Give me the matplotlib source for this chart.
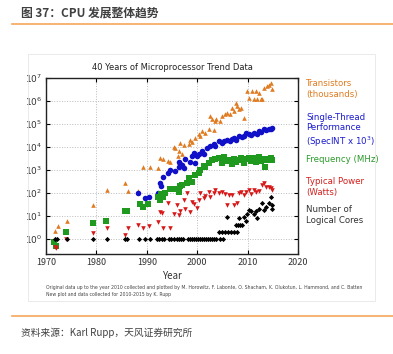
import matplotlib
matplotlib.use("Agg")
import matplotlib.pyplot as plt
from matplotlib.patches import Rectangle
from matplotlib.lines import Line2D

plt.rcParams['font.family'] = ['Noto Sans CJK SC', 'DejaVu Sans']

# ---------------- data ----------------
tr_years = [1971.7, 1972.3, 1974.2, 1979.4, 1982.1, 1985.7, 1986.2, 1988.3,
            1989.3, 1990.6, 1992.3, 1992.6, 1993.3, 1994.3, 1994.6, 1995.3, 1995.6,
            1996.2, 1996.3, 1996.6, 1997.0, 1997.3, 1998.3, 1998.6, 1998.9, 1999.6,
            2000.3, 2000.6, 2000.9, 2001.6, 2002.3, 2002.6, 2003.0, 2003.3, 2003.6,
            2003.8, 2004.6, 2004.9, 2005.6, 2005.9, 2006.6, 2006.9, 2007.3, 2007.6,
            2007.9, 2008.2, 2008.6, 2009.2, 2009.9, 2010.2, 2010.9, 2011.2, 2011.6,
            2011.9, 2012.2, 2012.6, 2012.9, 2013.3, 2013.9, 2014.3, 2014.6, 2014.9]
tr_values = [2.3, 3.5, 6, 29, 134, 275, 120, 125,
             1300, 1300, 1250, 3200, 3100, 2400, 2300, 10000, 9300,
             4000, 6500, 15000, 4800, 12000, 13000, 21000, 17000, 24000,
             35000, 30000, 50000, 42000, 59000, 220000, 160000, 56000, 135000,
             160000, 135000, 220000, 260000, 310000, 260000, 510000, 370000, 850000,
             600000, 440000, 510000, 190000, 2700000, 1400000, 2700000, 1200000, 2700000,
             1200000, 2300000, 1200000, 1200000, 3800000, 4500000, 5200000, 6300000, 3200000]

perf_years = [1988.3, 1989.6, 1990.4, 1992.3, 1992.6, 1992.9, 1993.3, 1994.3, 1994.6,
              1995.6, 1996.3, 1996.3, 1996.6, 1997.0, 1997.3, 1997.6, 1998.6, 1998.9,
              1999.3, 1999.6, 1999.9, 2000.3, 2000.9, 2001.3, 2001.9, 2002.6, 2003.3,
              2003.6, 2004.3, 2004.9, 2005.3, 2005.9, 2006.6, 2006.9, 2007.3, 2007.6,
              2008.3, 2008.9, 2009.2, 2009.6, 2010.2, 2010.6, 2011.2, 2011.9, 2012.2,
              2012.6, 2013.2, 2013.6, 2014.2, 2014.6, 2014.9]
perf_values = [98, 60, 65, 98, 260, 200, 510, 720, 1000,
               900, 1380, 2300, 1800, 1600, 1200, 2950, 2300, 4000,
               5600, 1950, 4000, 4800, 6800, 5000, 9300, 11000, 13000,
               11000, 18000, 15500, 19000, 21000, 18000, 22000, 25000, 20000,
               30000, 26000, 30000, 42000, 35000, 33000, 42000, 35000, 50000,
               47000, 59000, 55000, 59000, 62000, 69000]

freq_years = [1971.5, 1971.9, 1974.0, 1979.3, 1982.0, 1985.6, 1986.0, 1988.7,
              1989.3, 1990.3, 1992.3, 1992.6, 1992.9, 1993.3, 1993.6, 1994.6,
              1995.6, 1996.3, 1996.6, 1997.0, 1998.0, 1998.3, 1998.9, 1999.6,
              2000.3, 2000.6, 2001.3, 2001.6, 2002.3, 2003.0, 2003.6, 2004.3,
              2004.9, 2005.3, 2005.9, 2006.3, 2006.9, 2007.3, 2007.6, 2008.2,
              2008.6, 2009.2, 2009.6, 2010.2, 2010.6, 2011.2, 2011.6, 2012.2,
              2012.6, 2013.2, 2013.5, 2013.9, 2014.3, 2014.6, 2014.9]
freq_values = [0.74, 0.5, 2, 5, 6, 16, 16, 33,
               25, 33, 66, 50, 90, 66, 100, 150,
               150, 110, 200, 233, 266, 450, 300, 600,
               733, 1000, 1500, 1400, 2000, 2800, 3000, 3200,
               2000, 3600, 2400, 2700, 1800, 3000, 2200, 2600,
               3200, 2000, 2900, 3300, 2500, 3400, 2200, 3500,
               2500, 2900, 1400, 2700, 3000, 3300, 2600]

power_years = [1971.7, 1971.9, 1974.0, 1979.3, 1982.2, 1985.7, 1986.2, 1988.3,
               1989.3, 1990.4, 1992.3, 1992.6, 1993.0, 1993.3, 1994.3, 1994.6,
               1995.3, 1995.9, 1996.3, 1996.6, 1997.3, 1997.6, 1998.0, 1998.6,
               1998.9, 1999.3, 2000.0, 2000.3, 2000.6, 2001.3, 2001.6, 2002.3,
               2002.6, 2003.3, 2003.6, 2004.3, 2004.9, 2005.6, 2005.9, 2006.3,
               2006.9, 2007.3, 2007.9, 2008.3, 2008.6, 2009.2, 2009.6, 2010.2,
               2010.6, 2011.2, 2011.6, 2012.2, 2012.9, 2013.2, 2013.6, 2014.2,
               2014.6, 2014.9]
power_values = [0.45, 0.4, 1, 1.8, 3, 1.5, 3, 4,
                2.9, 3.5, 5.5, 15, 13, 3, 35, 3,
                12, 30, 11, 17, 50, 21, 98, 15,
                40, 33, 23, 50, 98, 60, 75, 115,
                65, 98, 135, 98, 115, 95, 30, 80,
                82, 30, 35, 98, 115, 80, 115, 135,
                95, 130, 115, 125, 225, 260, 190, 190,
                160, 140]

core_years = [1971.7, 1972.2, 1974.2, 1979.4, 1982.2, 1985.6, 1986.0, 1988.5,
              1989.6, 1990.6, 1992.1, 1992.5, 1993.0, 1993.4, 1994.4, 1994.9,
              1995.4, 1995.9, 1996.4, 1996.8, 1997.2, 1998.2, 1998.6, 1999.0,
              1999.4, 1999.8, 2000.2, 2000.6, 2001.0, 2001.4, 2001.8, 2002.2,
              2002.6, 2003.0, 2003.4, 2003.8, 2004.5, 2005.1, 2004.3, 2004.9,
              2005.5, 2006.1, 2006.7, 2007.3, 2007.9, 2007.6, 2008.1, 2008.5,
              2008.9, 2005.9, 2008.3, 2009.6, 2009.8, 2009.3, 2010.2, 2010.6,
              2011.2, 2011.6, 2011.9, 2012.2, 2012.9, 2013.2, 2013.6, 2014.2,
              2014.6, 2014.9, 2014.9]
core_values = [1, 1, 1, 1, 1, 1, 1, 1,
               1, 1, 1, 1, 1, 1, 1, 1,
               1, 1, 1, 1, 1, 1, 1, 1,
               1, 1, 1, 1, 1, 1, 1, 1,
               1, 1, 1, 1, 1, 1, 2, 2,
               2, 2, 2, 2, 2, 4, 4, 4,
               4, 9, 8, 6, 12, 9, 18, 16,
               12, 16, 8, 20, 35, 18, 24, 36,
               70, 30, 20]

labels = [("Transistors\n(thousands)", "#E07B20"),
          ("Single-Thread\nPerformance\n(SpecINT x 10$^3$)", "#1a1ad0"),
          ("Frequency (MHz)", "#2a9a2a"),
          ("Typical Power\n(Watts)", "#d42020"),
          ("Number of\nLogical Cores", "#333333")]

xticks = [1970, 1980, 1990, 2000, 2010, 2020]

# ---------------- figure ----------------
W, H = 393, 354
fig = plt.figure(figsize=(W / 100, H / 100), dpi=100)
fig.patch.set_facecolor("white")

def fx(px):
    return px / W

def fy(py):
    return 1 - py / H

# header / footer
fig.text(fx(21), fy(13), "图 37：CPU 发展整体趋势", fontsize=8.5, color="#404040",
         va="center", ha="left", fontweight="bold")
fig.add_artist(Line2D([fx(12), 1], [fy(24), fy(24)], color="#F5A55A", lw=1.2))
fig.add_artist(Line2D([fx(12), 1], [fy(316), fy(316)], color="#F5A55A", lw=1.2))
fig.text(fx(21), fy(333), "资料来源：Karl Rupp，天风证券研究所", fontsize=7, color="#404040",
         va="center", ha="left")

# chart box
fig.add_artist(Rectangle((fx(28), fy(301)), fx(375) - fx(28), fy(54) - fy(301),
                         transform=fig.transFigure, fill=False, edgecolor="#e6e6e6", lw=0.6))

ax = fig.add_axes([fx(46), fy(254), fx(298) - fx(46), fy(78) - fy(254)])
ax.set_yscale("log")
ax.set_xlim(1970, 2020)
ax.set_ylim(0.223, 1e7)
ax.set_xticks(xticks)
ax.set_xticklabels([str(t) for t in xticks], fontsize=6.5, color="#333333")
ax.set_yticks([10.0 ** k for k in range(0, 8)])
ax.yaxis.set_minor_locator(matplotlib.ticker.NullLocator())
ax.tick_params(axis="both", which="major", direction="in", length=3, width=0.8,
               top=True, right=True, labelsize=6.5, labelcolor="#333333", pad=3)
ax.set_yticklabels([r"$10^{%d}$" % k for k in range(0, 8)])
ax.grid(True, which="major", linestyle=":", color="#bbbbbb", lw=0.7)
for s in ax.spines.values():
    s.set_linewidth(1.0)
    s.set_color("#222222")

ax.scatter(tr_years, tr_values, marker="^", s=11, color="#E07B20", lw=0, zorder=3)
ax.scatter(perf_years, perf_values, marker="o", s=16, color="#1010c8", lw=0, zorder=3)
ax.scatter(freq_years, freq_values, marker="s", s=15, color="#1f9a1f", lw=0, zorder=3)
ax.scatter(power_years, power_values, marker="v", s=11, color="#d81818", lw=0, zorder=3)
ax.scatter(core_years, core_values, marker="D", s=7, color="#000000", lw=0, zorder=3)

ax.set_title("40 Years of Microprocessor Trend Data", fontsize=6, color="#222222", pad=6,
             family="DejaVu Sans")
ax.set_xlabel("Year", fontsize=7, color="#333333", labelpad=3)

# right-hand labels (figure pixel positions)
label_py = [89, 131, 159, 187, 215]
for (txt, col), py in zip(labels, label_py):
    fig.text(fx(306), fy(py), txt, fontsize=6.2, color=col, va="center", ha="left",
             linespacing=1.25, family="DejaVu Sans")

fig.text(fx(46), fy(288),
         "Original data up to the year 2010 collected and plotted by M. Horowitz, F. Labonte, "
         "O. Shacham, K. Olukotun, L. Hammond, and C. Batten",
         fontsize=3.3, color="#444444", va="center", ha="left", family="DejaVu Sans")
fig.text(fx(46), fy(294.5), "New plot and data collected for 2010-2015 by K. Rupp",
         fontsize=3.3, color="#444444", va="center", ha="left", family="DejaVu Sans")

fig.savefig("out.png", dpi=100, facecolor="white")
